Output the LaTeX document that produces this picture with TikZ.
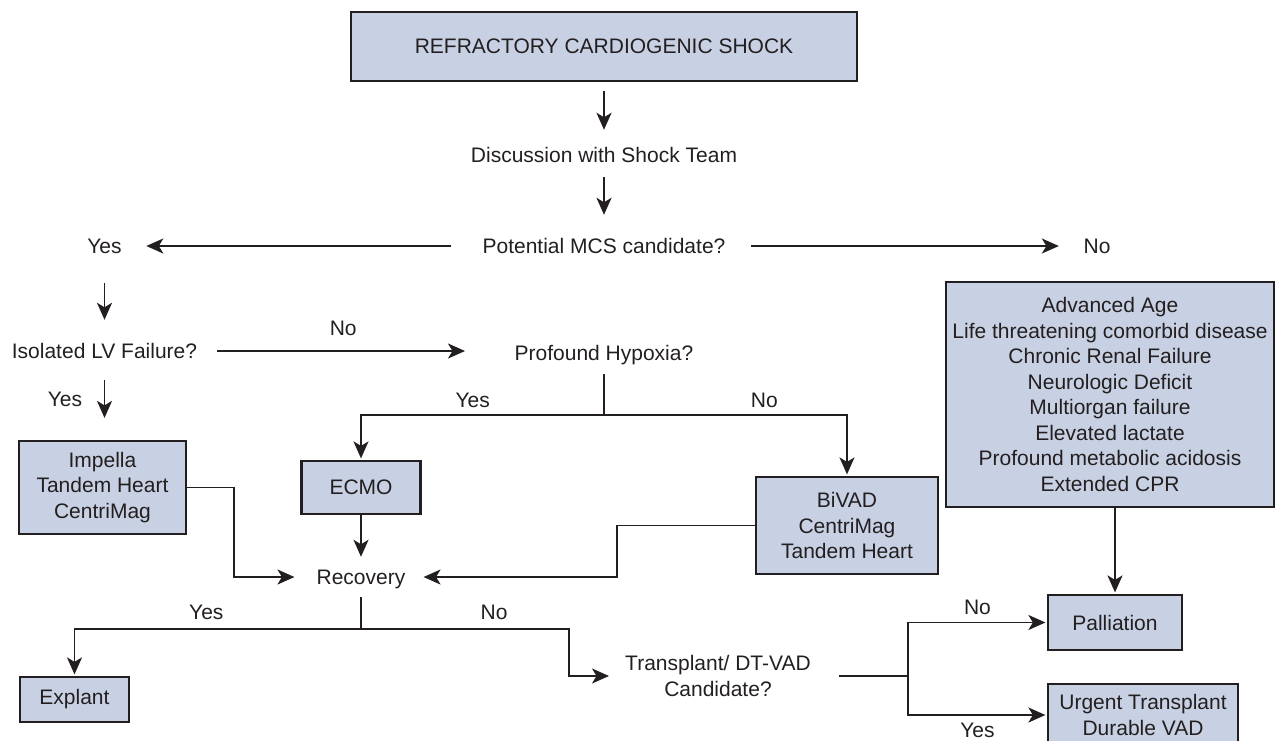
\documentclass[tikz,border=0pt]{standalone}
\usepackage{fontspec}
\setmainfont{Liberation Sans}
\usetikzlibrary{arrows.meta}
\definecolor{boxblue}{RGB}{200,209,227}
\definecolor{ink}{RGB}{35,31,32}

\begin{document}
\begin{tikzpicture}[
  x=1pt, y=-1pt,
  font=\fontsize{21}{25.5}\selectfont,
  every node/.style={text=ink},
  lbl/.style={inner sep=0pt, text height=15pt, text depth=0pt},
  box/.style={draw=ink, fill=boxblue, line width=2.2pt, align=center,
              inner sep=0pt},
  line/.style={draw=ink, line width=1.9pt},
  arr/.style={line, -{Stealth[length=17pt, width=15pt, inset=4.5pt]},
              shorten >=1.5pt}
]
  \clip (0,0) rectangle (1275,740);

  \node[box, minimum width=506pt, minimum height=69pt] (shock) at (604,46.5)
    {REFRACTORY CARDIOGENIC SHOCK};
  \node[lbl] (team) at (604,155) {Discussion with Shock Team};
  \node[lbl] (mcs) at (604,246) {Potential MCS candidate?};
  \node[lbl] (mcsyes) at (104.5,246) {Yes};
  \node[lbl] (mcsno) at (1097,246) {No};
  \node[lbl] (lvq) at (104.5,351) {Isolated LV Failure?};
  \node[lbl] (hypq) at (604,353) {Profound Hypoxia?};
  \node[box, minimum width=167pt, minimum height=93pt] (impella) at (102.5,487.5)
    {Impella\\ Tandem Heart\\ CentriMag};
  \node[box, minimum width=119pt, minimum height=53pt] (ecmo) at (361,487.5) {ECMO};
  \node[box, minimum width=182pt, minimum height=97pt] (bivad) at (847,525.5)
    {BiVAD\\ CentriMag\\ Tandem Heart};
  \node[box, minimum width=328pt, minimum height=225pt] (contra) at (1110,394.5)
    {Advanced Age\\ Life threatening comorbid disease\\ Chronic Renal Failure\\
     Neurologic Deficit\\ Multiorgan failure\\ Elevated lactate\\
     Profound metabolic acidosis\\ Extended CPR};
  \node[lbl] (recov) at (361,577) {Recovery};
  \node[box, minimum width=109pt, minimum height=45pt] (explant) at (74.5,699.5) {Explant};
  \node[align=center, inner sep=0pt] (txq) at (718,676)
    {Transplant/ DT-VAD\\ Candidate?};
  \node[box, minimum width=134pt, minimum height=55pt] (pall) at (1115,622.5) {Palliation};
  \node[box, minimum width=190pt, minimum height=62pt] (urgent) at (1143,715)
    {Urgent Transplant\\ Durable VAD};

  \coordinate (hsplit) at (604,415);
  \coordinate (rsplit) at (361,629);
  \coordinate (tsplit) at (908,676);

  % main line
  \draw[arr, shorten <=9pt, shorten >=17.5pt] (shock) -- (team);
  \draw[arr, shorten <=14.5pt, shorten >=23.5pt] (team) -- (mcs);
  \draw[arr, shorten <=31pt, shorten >=24.5pt] (mcs) -- (mcsyes);
  \draw[arr, shorten <=25.5pt, shorten >=24.5pt] (mcs) -- (mcsno);
  \draw[arr, shorten <=29.5pt, shorten >=23.5pt] (mcsyes.south -| lvq) -- (lvq.north);

  % LV failure branch
  \draw[arr, shorten <=20pt, shorten >=49.5pt] (lvq.east) -- (lvq.east -| hypq.west)
    node[pos=0.46, above=11.5pt] (lvno) {No};
  \draw[arr, shorten <=21.5pt, shorten >=22pt] (lvq.south) -- (lvq.south |- impella.north)
    node[midway, left=21.5pt, lbl] (lvyes) {Yes};

  % hypoxia branch
  \draw[line, shorten <=13.5pt] (hypq) -- (hsplit);
  \draw[arr] (hsplit) -| (ecmo.north) node[pos=0.27, above=7pt, lbl] (hypyes) {Yes};
  \draw[arr] (hsplit) -| (bivad.north) node[pos=0.33, above=7pt, lbl] (hypno) {No};

  % into recovery
  \draw[arr, shorten >=12.5pt] (ecmo) -- (recov);
  \draw[arr, shorten >=22pt] (impella.east) -- ++(47,0) |- (recov.west);
  \draw[arr, shorten >=18pt] (bivad.west) -- ++(-138,0) |- (recov.east);

  % recovery branch
  \draw[line, shorten <=12.5pt] (recov) -- (rsplit);
  \draw[arr] (rsplit) -| (explant.north) node[pos=0.27, above=8.5pt, lbl] (recyes) {Yes};
  \draw[arr, shorten >=16pt] (rsplit) -- ++(208,0)
    node[pos=0.64, above=8.5pt, lbl] (recno) {No} |- (txq.west);

  % transplant branch
  \draw[line, shorten <=28.5pt] (txq.east) -- (tsplit);
  \draw[arr] (tsplit) |- (pall.west) node[pos=0.75, above=7.5pt, lbl] (txno) {No};
  \draw[arr] (tsplit) |- (urgent.west) node[pos=0.75, below=7pt, lbl] (txyes) {Yes};

  % contraindications
  \draw[arr] (contra.south -| pall.north) -- (pall.north);
\end{tikzpicture}
\end{document}
